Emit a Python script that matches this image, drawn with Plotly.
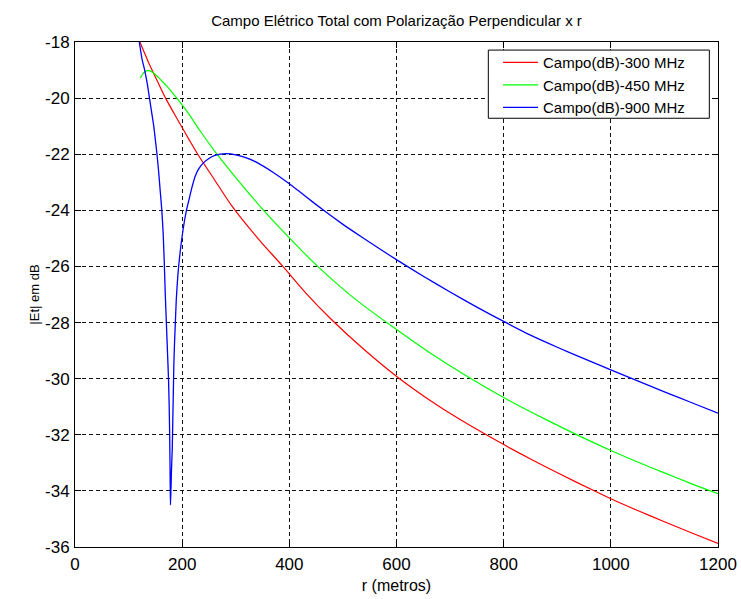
import plotly.graph_objects as go

# ---- data ----
r_300 = [121, 130, 140, 150, 160, 169, 185, 200, 215, 229, 260, 293, 340, 388, 430, 479,
         540, 601, 660, 718, 800, 850, 905, 967, 1000, 1050, 1100, 1150, 1200]
e_300 = [-18.0, -18.4, -18.85, -19.25, -19.65, -20.0, -20.55, -21.05, -21.55, -22.0, -22.9, -23.85,
         -24.97, -26.0, -26.93, -27.9, -28.97, -29.93, -30.74, -31.45, -32.35, -32.86, -33.4, -33.98,
         -34.28, -34.7, -35.1, -35.49, -35.87]

r_450 = [122, 126, 130, 135, 140, 148, 160, 175, 190, 210, 234, 265, 305, 352, 400, 452, 520,
         589, 660, 737, 810, 880, 940, 1000, 1050, 1100, 1150, 1200]
e_450 = [-19.28, -19.15, -19.07, -19.02, -19.03, -19.12, -19.35, -19.65, -20.0, -20.5, -21.18,
         -22.0, -22.95, -24.0, -24.98, -25.98, -27.12, -28.1, -29.05, -29.98, -30.78, -31.47, -32.03,
         -32.56, -32.97, -33.36, -33.74, -34.1]

r_900 = [120, 125, 130, 135, 139, 143, 147, 150, 153, 156, 159, 162, 164.5, 166.5, 168.5, 170.5,
         172.5, 174.5, 175.8, 176.7, 177.3, 177.8, 178.2, 179, 180, 181.5, 182.5, 183.5, 184.5,
         185.8, 187.3, 189, 192, 195, 198, 201.6, 205, 208, 213, 218, 224, 230, 240, 250, 260,
         271, 283, 300, 320, 340, 370, 400, 430, 464, 500, 535, 569, 605, 650, 700, 750, 800,
         850, 900, 942, 1000, 1050, 1100, 1150, 1200]
e_900 = [-18.0, -18.6, -19.0, -19.5, -20.0, -20.5, -21.0, -21.5, -22.0, -22.6, -23.3, -24.0,
         -24.8, -25.8, -27.0, -28.0, -29.0, -30.0, -31.0, -32.0, -33.0, -34.0, -34.5, -34.0,
         -33.3, -32.5, -31.5, -30.5, -29.5, -28.7, -28.0, -27.2, -26.3, -25.7, -25.2, -24.7,
         -24.3, -24.0, -23.6, -23.2, -22.8, -22.55, -22.3, -22.15, -22.05, -22.0, -21.98, -22.02,
         -22.13, -22.3, -22.65, -23.05, -23.5, -24.0, -24.5, -24.95, -25.38, -25.82, -26.35,
         -26.91, -27.45, -27.96, -28.45, -28.88, -29.22, -29.69, -30.08, -30.47, -30.85, -31.23]

names = ["Campo(dB)-300 MHz", "Campo(dB)-450 MHz", "Campo(dB)-900 MHz"]
x_ticks = [0, 200, 400, 600, 800, 1000, 1200]
y_ticks = [-36, -34, -32, -30, -28, -26, -24, -22, -20, -18]

title_text = "Campo Elétrico Total com Polarização Perpendicular x r"
x_title = "r (metros)"
y_title = "|Et| em dB"

FONT = "Liberation Sans, Arial, sans-serif"

fig = go.Figure()
fig.add_trace(go.Scatter(x=r_300, y=e_300, mode="lines", name=names[0],
                         line=dict(color="#ff0000", width=1.2, shape="spline", smoothing=0.8)))
fig.add_trace(go.Scatter(x=r_450, y=e_450, mode="lines", name=names[1],
                         line=dict(color="#00ff00", width=1.2, shape="spline", smoothing=0.8)))
fig.add_trace(go.Scatter(x=r_900, y=e_900, mode="lines", name=names[2],
                         line=dict(color="#0000ff", width=1.3, shape="spline", smoothing=0.5)))

axis_common = dict(
    showline=True, linecolor="black", linewidth=1, mirror="ticks",
    ticks="inside", ticklen=6, tickcolor="black", tickwidth=1,
    showgrid=True, gridcolor="#111111", gridwidth=1, griddash="4px,3px",
    zeroline=False, automargin=False,
    tickfont=dict(family=FONT, size=17, color="black"),
)

fig.update_xaxes(range=[0, 1200], tickvals=x_ticks, ticktext=[str(v) for v in x_ticks],
                 title=dict(text=x_title, font=dict(family=FONT, size=16, color="black"), standoff=6),
                 ticklabelstandoff=2, **axis_common)
fig.update_yaxes(range=[-36, -18], tickvals=y_ticks, ticktext=[str(v) for v in y_ticks],
                 title=dict(text=y_title, font=dict(family=FONT, size=13, color="black"), standoff=2),
                 ticklabelstandoff=1, **axis_common)

# legend frame (MATLAB-style box)
fig.add_shape(type="rect", xref="paper", yref="paper", x0=0.6428, x1=0.9865, y0=0.849, y1=0.984,
              line=dict(color="black", width=1), fillcolor="white", layer="above")

fig.update_layout(
    width=741, height=599,
    margin=dict(l=75, r=23, t=42, b=52),
    paper_bgcolor="white", plot_bgcolor="white",
    title=dict(text=title_text, x=0.5, xref="paper", xanchor="center", y=0.966, yanchor="middle",
               font=dict(family=FONT, size=15, color="black")),
    legend=dict(x=0.6579, y=0.992, xanchor="left", yanchor="top",
                bgcolor="rgba(0,0,0,0)", borderwidth=0,
                font=dict(family=FONT, size=15, color="black"),
                tracegroupgap=0, itemwidth=35),
    showlegend=True,
)

fig.write_html("out.html", config={"displayModeBar": False},
               post_script="document.body.style.margin='0';document.body.style.overflow='hidden';")
